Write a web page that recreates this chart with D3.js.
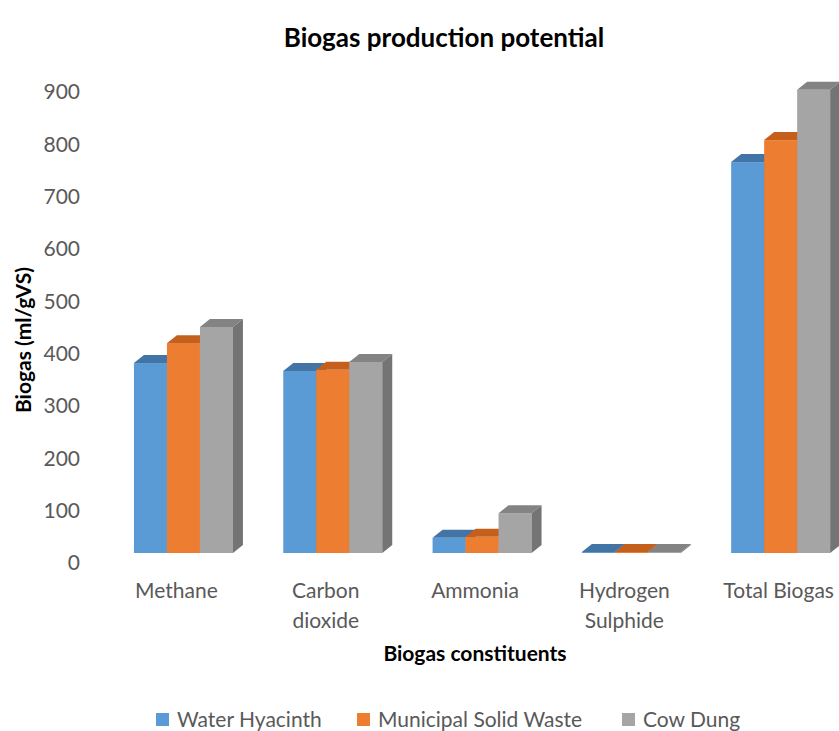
<!DOCTYPE html>
<html>
<head>
<meta charset="utf-8">
<script src="https://cdn.jsdelivr.net/npm/d3@7"></script>
<style>
  body { margin: 0; background: #fff; }
  text { font-family: Lato, "Open Sans", sans-serif; }
</style>
</head>
<body>
<svg id="chart" width="839" height="731"></svg>
<script>
const categories = [['Methane'], ['Carbon', 'dioxide'], ['Ammonia'], ['Hydrogen', 'Sulphide'], ['Total Biogas']]
const seriesNames = ['Water Hyacinth', 'Municipal Solid Waste', 'Cow Dung']
const waterHyacinth = [363, 348, 29, 2, 747]
const municipalWaste = [401, 350, 31, 2, 789]
const cowDung = [432, 365, 76, 2, 885]
const yTicks = [0, 100, 200, 300, 400, 500, 600, 700, 800, 900]

const series = [waterHyacinth, municipalWaste, cowDung]
const frontColor = ['#5b9bd5', '#ed7d31', '#a5a5a5']
const topColor = ['#4275a6', '#c4601c', '#838383']
const sideColor = ['#3f6d99', '#b8581a', '#747474']
const depth = { dx: 10, dy: -8 }

const svg = d3.select('#chart')
const keys = categories.map(c => c.join(' '))

const x = d3.scaleBand()
  .domain(keys)
  .range([108.8, 855.3])
  .paddingInner(0.337)
  .paddingOuter(0.1685)

const xs = d3.scaleBand()
  .domain(d3.range(series.length))
  .range([0, x.bandwidth()])

// axis labels sit on the floor's front edge, bars a little behind it
const yAxisScale = d3.scaleLinear().domain([0, 900]).range([563, 92])
const y = d3.scaleLinear().domain([0, 900]).range([553, 82])

svg.append('text')
  .attr('x', 444)
  .attr('y', 47)
  .attr('text-anchor', 'middle')
  .attr('font-size', 26)
  .attr('font-weight', 'bold')
  .attr('fill', '#000')
  .text('Biogas production potential')

// y axis tick labels
const yAxis = d3.axisLeft(yAxisScale).tickValues(yTicks).tickSize(0).tickPadding(0)
const gy = svg.append('g').attr('transform', 'translate(80,0)').call(yAxis)
gy.select('.domain').remove()
gy.selectAll('text')
  .attr('font-size', 21)
  .attr('fill', '#595959')
  .style('font-family', 'Lato, sans-serif')

svg.append('text')
  .attr('transform', 'translate(31,340) rotate(-90)')
  .attr('text-anchor', 'middle')
  .attr('font-size', 21)
  .attr('font-weight', 'bold')
  .text('Biogas (ml/gVS)')

// 3d columns, painted left to right
const bars = svg.append('g')
keys.forEach((k, ci) => {
  series.forEach((s, si) => {
    const v = s[ci]
    const x0 = x(k) + xs(si)
    const w = xs.bandwidth()
    const yv = y(v)
    const y0 = y(0)
    const g = bars.append('g')
    g.append('rect')
      .attr('x', x0).attr('y', yv)
      .attr('width', w).attr('height', y0 - yv)
      .attr('fill', frontColor[si])
    g.append('path')
      .attr('d', `M${x0},${yv}L${x0 + depth.dx},${yv + depth.dy}L${x0 + w + depth.dx},${yv + depth.dy}L${x0 + w},${yv}Z`)
      .attr('fill', topColor[si])
    g.append('path')
      .attr('d', `M${x0 + w},${yv}L${x0 + w + depth.dx},${yv + depth.dy}L${x0 + w + depth.dx},${y0 + depth.dy}L${x0 + w},${y0}Z`)
      .attr('fill', sideColor[si])
  })
})

// category labels
const labelShift = [-7, -7, -7, -7, -2]
const gx = svg.append('g')
categories.forEach((lines, i) => {
  const cx = x(keys[i]) + x.bandwidth() / 2 + labelShift[i]
  const t = gx.append('text')
    .attr('x', cx)
    .attr('y', 598)
    .attr('text-anchor', 'middle')
    .attr('font-size', 21)
    .attr('fill', '#595959')
  lines.forEach((l, j) => {
    t.append('tspan')
      .attr('x', cx)
      .attr('dy', j === 0 ? 0 : 30)
      .text(l)
  })
})

svg.append('text')
  .attr('x', 475)
  .attr('y', 661)
  .attr('text-anchor', 'middle')
  .attr('font-size', 21)
  .attr('font-weight', 'bold')
  .text('Biogas constituents')

// legend
const legendX = [156, 357, 622]
const legend = svg.append('g')
seriesNames.forEach((name, i) => {
  legend.append('rect')
    .attr('x', legendX[i]).attr('y', 713)
    .attr('width', 13).attr('height', 13)
    .attr('fill', frontColor[i])
  legend.append('text')
    .attr('x', legendX[i] + 21)
    .attr('y', 727)
    .attr('font-size', 21)
    .attr('fill', '#595959')
    .text(name)
})
</script>
</body>
</html>
